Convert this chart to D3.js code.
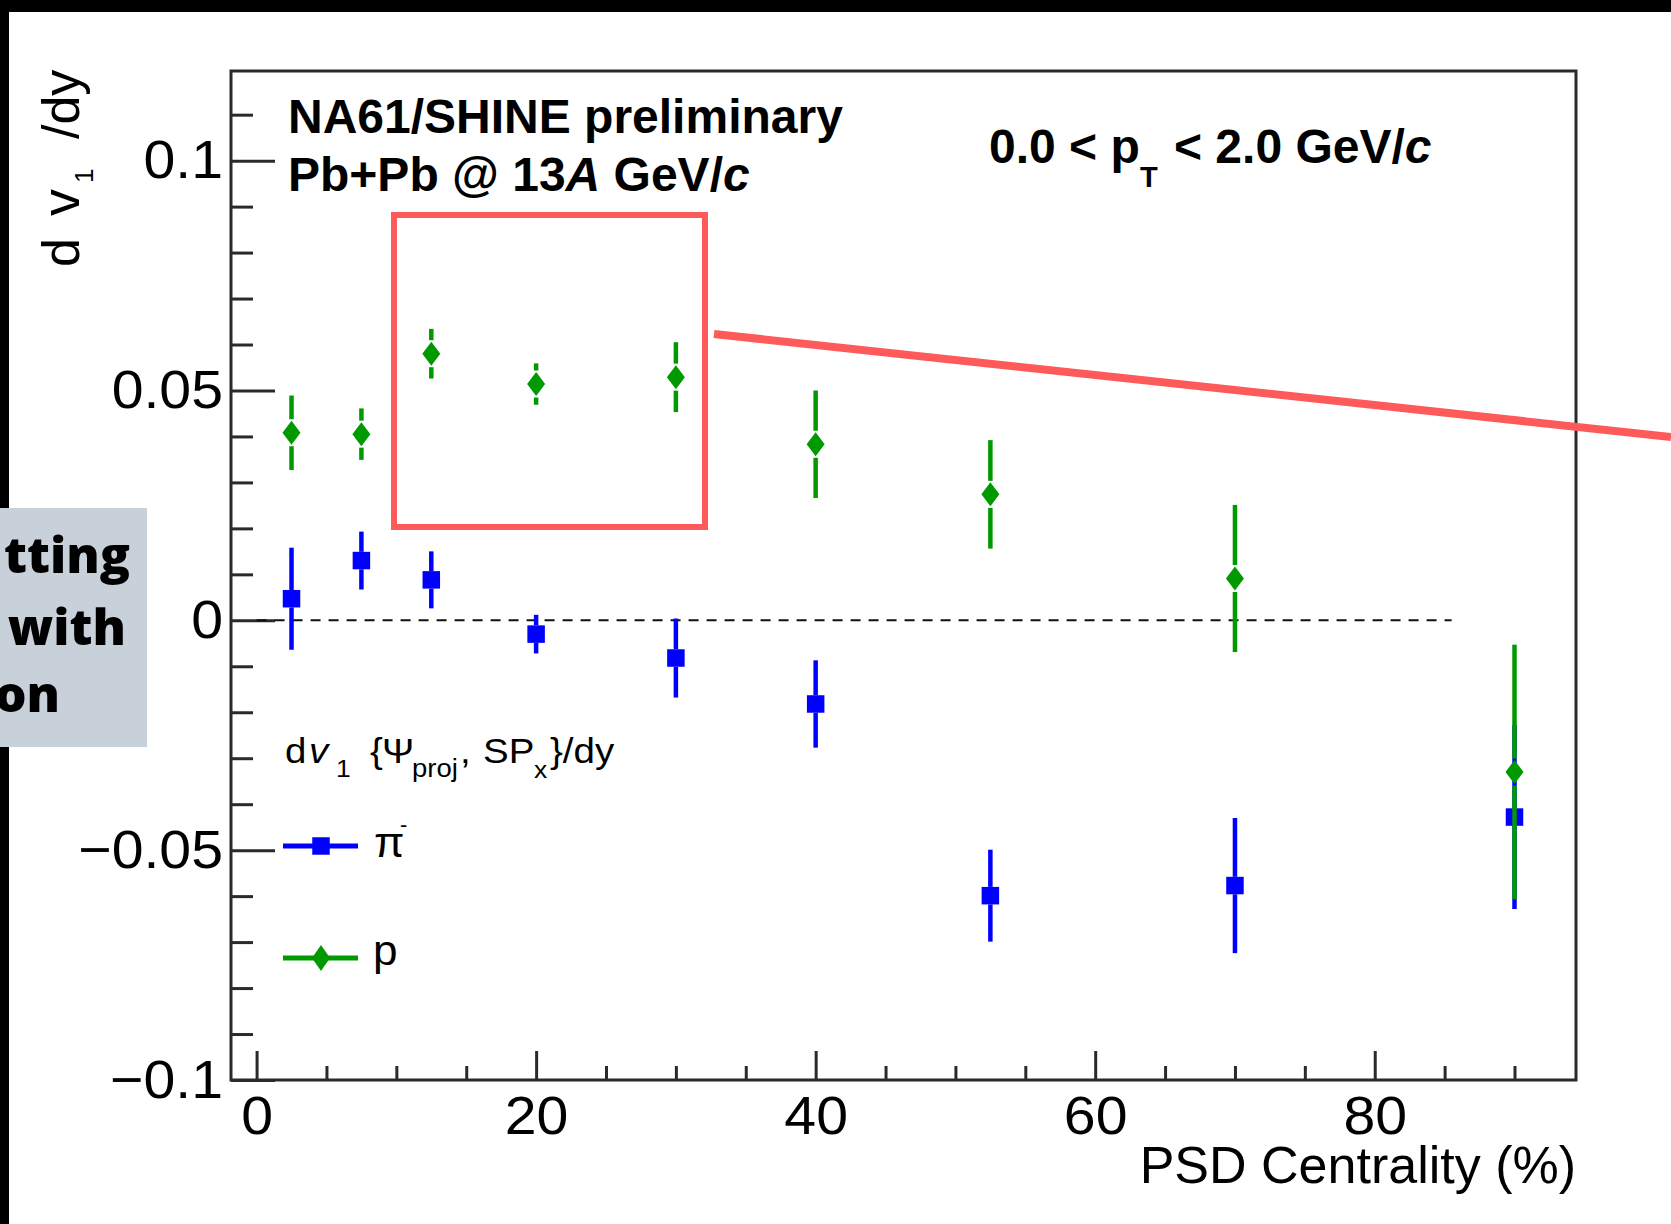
<!DOCTYPE html>
<html>
<head>
<meta charset="utf-8">
<script src="https://cdn.jsdelivr.net/npm/d3@7"></script>
<style>
  html, body { margin: 0; padding: 0; background: #fff; }
  svg { display: block; }
  text { font-family: "Liberation Sans", Arial, Helvetica, sans-serif; fill: #000; }
</style>
</head>
<body>
<svg id="chart" width="1671" height="1224"></svg>
<script>
// Centrality bin centres (%)
const centrality = [2.5, 7.5, 12.5, 20, 30, 40, 52.5, 70, 90];

// dv1/dy of negative pions and its uncertainty
const pionV1  = [0.0047, 0.0130, 0.0088, -0.0030, -0.0082, -0.0182, -0.0599, -0.0577, -0.0428];
const pionErr = [0.0111, 0.0063, 0.0062, 0.0042, 0.0086, 0.0095, 0.0100, 0.0147, 0.0200];

// dv1/dy of protons and its uncertainty
const protonV1  = [0.0408, 0.0405, 0.0580, 0.0514, 0.0529, 0.0383, 0.0274, 0.0091, -0.0330];
const protonErr = [0.0081, 0.0056, 0.0054, 0.0045, 0.0076, 0.0117, 0.0118, 0.0160, 0.0277];

// Axis ticks and their labels
const yMajorTicks = [-0.1, -0.05, 0, 0.05, 0.1];
const yTickLabels = ["\u22120.1", "\u22120.05", "0", "0.05", "0.1"];
const yMinorTicks = [-0.09, -0.08, -0.07, -0.06, -0.04, -0.03, -0.02, -0.01,
                     0.01, 0.02, 0.03, 0.04, 0.06, 0.07, 0.08, 0.09, 0.11];
const xMajorTicks = [0, 20, 40, 60, 80];
const xTickLabels = ["0", "20", "40", "60", "80"];
const xMinorTicks = [5, 10, 15, 25, 30, 35, 45, 50, 55, 65, 70, 75, 85, 90];

const BLUE = "#0000ff", GREEN = "#009900", RED = "#ff5a5a", FRAME = "#2a2a2a";

const svg = d3.select("#chart");
svg.append("rect").attr("width", 1671).attr("height", 1224).attr("fill", "#fff");

// Plot frame geometry
const L = 231, R = 1576, T = 71, B = 1080;
const x = d3.scaleLinear().domain([-1.83, 94.4]).range([L, R]);
const y = d3.scaleLinear().domain([-0.1, 0.1195]).range([B, T]);

// Helper for a text piece with optional horizontal stretch
function label(parent, px, py, s, size, opt = {}) {
  return parent.append("text")
    .attr("transform", `translate(${px},${py}) scale(${opt.sx || 1},1)`)
    .attr("font-size", size)
    .attr("font-weight", opt.bold ? "bold" : null)
    .attr("font-style", opt.italic ? "italic" : null)
    .attr("text-anchor", opt.anchor || "start")
    .text(s);
}

// ---- axes ----
function styleTicks(g) {
  g.select(".domain").remove();
  g.selectAll(".tick line").attr("stroke", FRAME).attr("stroke-width", 3);
}

svg.append("g").attr("transform", `translate(${L},0)`)
  .call(d3.axisLeft(y).tickValues(yMajorTicks).tickSize(-44).tickFormat(""))
  .call(styleTicks);
svg.append("g").attr("transform", `translate(${L},0)`)
  .call(d3.axisLeft(y).tickValues(yMinorTicks).tickSize(-22).tickFormat(""))
  .call(styleTicks);
svg.append("g").attr("transform", `translate(0,${B})`)
  .call(d3.axisBottom(x).tickValues(xMajorTicks).tickSize(-29).tickFormat(""))
  .call(styleTicks);
svg.append("g").attr("transform", `translate(0,${B})`)
  .call(d3.axisBottom(x).tickValues(xMinorTicks).tickSize(-14).tickFormat(""))
  .call(styleTicks);

// tick labels
const yLab = svg.append("g").attr("transform", `translate(${L},0)`)
  .call(d3.axisLeft(y).tickValues(yMajorTicks).tickSize(0).tickPadding(8)
        .tickFormat((d, i) => yTickLabels[i]));
yLab.select(".domain").remove();
yLab.selectAll("text")
  .attr("font-family", null).attr("font-size", 54).attr("fill", "#000")
  .attr("x", null).attr("transform", "translate(-8,0) scale(1.06,1)");

const xLab = svg.append("g").attr("transform", `translate(0,${B})`)
  .call(d3.axisBottom(x).tickValues(xMajorTicks).tickSize(0).tickPadding(16)
        .tickFormat((d, i) => xTickLabels[i]));
xLab.select(".domain").remove();
xLab.selectAll("text")
  .attr("font-family", null).attr("font-size", 54).attr("fill", "#000")
  .attr("transform", "scale(1.06,1)");

// frame
svg.append("rect").attr("x", L).attr("y", T).attr("width", R - L).attr("height", B - T)
  .attr("fill", "none").attr("stroke", FRAME).attr("stroke-width", 3);

// zero reference line
svg.append("line")
  .attr("x1", x(0)).attr("x2", x(85.5)).attr("y1", y(0)).attr("y2", y(0))
  .attr("stroke", "#111").attr("stroke-width", 2).attr("stroke-dasharray", "10,8");

// axis titles
label(svg, R, 1183, "PSD Centrality (%)", 52, { anchor: "end" });

const yt = svg.append("g").attr("transform", "translate(79,267) rotate(-90)");
label(yt, 0, 0, "d", 52);
label(yt, 51, 0, "v", 54);
label(yt, 84, 14, "1", 26);
label(yt, 128, 0, "/dy", 52);

// ---- data ----
const SQ = 17.5, DW = 9, DH = 12;

function drawSeries(vals, errs, color, shape) {
  const g = svg.append("g");
  const half = shape === "square" ? SQ / 2 : DH + 1.5;
  centrality.forEach((c, i) => {
    const cx = x(c), cy = y(vals[i]);
    const top = y(vals[i] + errs[i]), bot = y(vals[i] - errs[i]);
    if (cy - half > top)
      g.append("line").attr("x1", cx).attr("x2", cx).attr("y1", top).attr("y2", cy - half)
        .attr("stroke", color).attr("stroke-width", 4.5);
    if (bot > cy + half)
      g.append("line").attr("x1", cx).attr("x2", cx).attr("y1", cy + half).attr("y2", bot)
        .attr("stroke", color).attr("stroke-width", 4.5);
    if (shape === "square") {
      g.append("rect").attr("x", cx - SQ / 2).attr("y", cy - SQ / 2)
        .attr("width", SQ).attr("height", SQ).attr("fill", color);
    } else {
      g.append("path")
        .attr("d", `M${cx},${cy - DH} L${cx + DW},${cy} L${cx},${cy + DH} L${cx - DW},${cy} Z`)
        .attr("fill", color);
    }
  });
}
drawSeries(pionV1, pionErr, BLUE, "square");
drawSeries(protonV1, protonErr, GREEN, "diamond");

// ---- text labels ----
label(svg, 288, 133, "NA61/SHINE preliminary", 48, { bold: true });
const t2 = svg.append("text").attr("x", 288).attr("y", 191)
  .attr("font-size", 48).attr("font-weight", "bold");
t2.append("tspan").text("Pb+Pb @ 13");
t2.append("tspan").attr("font-style", "italic").text("A");
t2.append("tspan").text(" GeV/");
t2.append("tspan").attr("font-style", "italic").text("c");

const pt = svg.append("text").attr("y", 163).attr("font-size", 48).attr("font-weight", "bold");
pt.append("tspan").attr("x", 989).text("0.0 < p");
pt.append("tspan").attr("x", 1140).attr("y", 187).attr("font-size", 29).text("T");
pt.append("tspan").attr("x", 1174).attr("y", 163).text("< 2.0 GeV/");
pt.append("tspan").attr("font-style", "italic").text("c");

// ---- legend ----
const lg = svg.append("g");
const LS = 1.1;
label(lg, 285, 763, "d", 35, { sx: LS });
label(lg, 309, 763, "v", 35, { sx: LS, italic: true });
label(lg, 336, 777, "1", 24, { sx: LS });
label(lg, 370, 763, "{", 35, { sx: LS });
label(lg, 382, 763, "\u03A8", 35, { sx: LS });
label(lg, 412, 777, "proj", 25, { sx: LS });
label(lg, 460, 763, ",", 35, { sx: LS });
label(lg, 483, 763, "SP", 35, { sx: LS });
label(lg, 534, 778, "x", 24, { sx: LS });
label(lg, 550, 763, "}/dy", 35, { sx: LS });

const legendItems = [
  { color: BLUE, shape: "square", y: 846 },
  { color: GREEN, shape: "diamond", y: 958 }
];
legendItems.forEach(d => {
  lg.append("line").attr("x1", 283).attr("x2", 358).attr("y1", d.y).attr("y2", d.y)
    .attr("stroke", d.color).attr("stroke-width", 5);
  if (d.shape === "square")
    lg.append("rect").attr("x", 321 - SQ / 2).attr("y", d.y - SQ / 2)
      .attr("width", SQ).attr("height", SQ).attr("fill", d.color);
  else
    lg.append("path")
      .attr("d", `M321,${d.y - DH - 1} L${321 + DW},${d.y} L321,${d.y + DH + 1} L${321 - DW},${d.y} Z`)
      .attr("fill", d.color);
});
label(lg, 374, 857, "\u03C0", 42, { sx: 1.05 });
label(lg, 400, 832, "-", 22);
label(lg, 373, 965, "p", 42, { sx: 1.05 });

// ---- callout marks ----
svg.append("rect").attr("x", 394).attr("y", 215).attr("width", 311).attr("height", 312)
  .attr("fill", "none").attr("stroke", RED).attr("stroke-width", 6);
svg.append("line").attr("x1", 714).attr("y1", 334).attr("x2", 1671).attr("y2", 437)
  .attr("stroke", RED).attr("stroke-width", 8);

// ---- page border and side panel ----
svg.append("rect").attr("x", 0).attr("y", 0).attr("width", 1671).attr("height", 12).attr("fill", "#000");
svg.append("rect").attr("x", 0).attr("y", 0).attr("width", 9).attr("height", 1224).attr("fill", "#000");
svg.append("rect").attr("x", 0).attr("y", 508).attr("width", 147).attr("height", 239).attr("fill", "#c8d0da");
const side = svg.append("g").attr("font-weight", 800).attr("font-size", 50).attr("text-anchor", "end");
side.append("text").attr("x", 130).attr("y", 573).style("font-family", "'Open Sans', sans-serif").text("tting");
side.append("text").attr("x", 126).attr("y", 645).style("font-family", "'Open Sans', sans-serif").text("with");
side.append("text").attr("x", 60).attr("y", 712).style("font-family", "'Open Sans', sans-serif").text("on");
</script>
</body>
</html>
